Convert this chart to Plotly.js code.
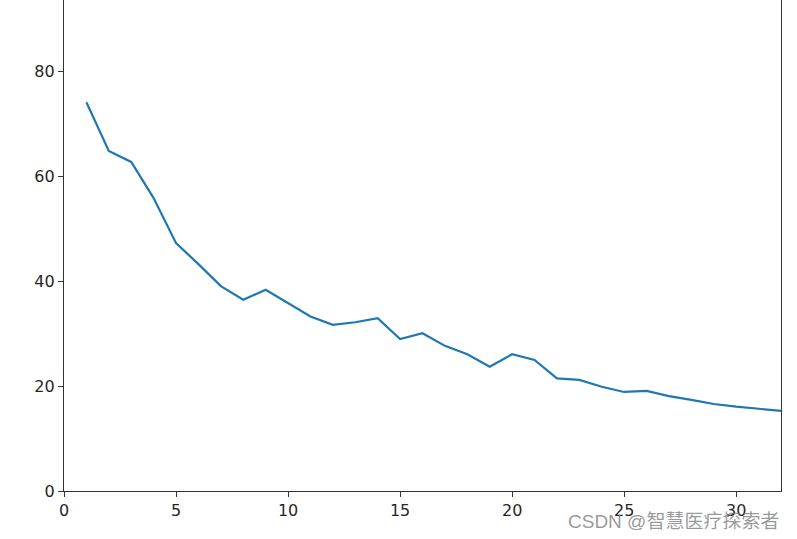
<!DOCTYPE html>
<html>
<head>
<meta charset="utf-8">
<script src="https://cdn.plot.ly/plotly-3.0.1.min.js"></script>
<style>html,body{margin:0;padding:0;background:#fff;}#chart{width:797px;height:539px;}</style>
</head>
<body>
<div id="chart"></div>
<script>
const epochs = [1,2,3,4,5,6,7,8,9,10,11,12,13,14,15,16,17,18,19,20,21,22,23,24,25,26,27,28,29,30,31,32];
const values = [74.2,64.9,62.8,55.9,47.3,43.3,39.1,36.5,38.4,35.8,33.3,31.7,32.2,33.0,29.0,30.1,27.7,26.1,23.7,26.1,25.0,21.5,21.2,19.9,18.9,19.1,18.1,17.4,16.6,16.1,15.7,15.3];
const xTicks = [0,5,10,15,20,25,30];
const yTicks = [0,20,40,60,80];
const watermark = "CSDN @智慧医疗探索者";

const trace = {
  x: epochs, y: values, type: 'scatter', mode: 'lines',
  line: {color: '#1f77b4', width: 2.2},
  hoverinfo: 'skip'
};
const font = {family: 'DejaVu Sans, sans-serif', size: 16, color: '#262626'};
const layout = {
  width: 797, height: 539,
  margin: {l: 64, r: 16, t: 0, b: 48},
  paper_bgcolor: '#fff', plot_bgcolor: '#fff',
  showlegend: false,
  font: font,
  xaxis: {
    range: [0, 32], tickvals: xTicks, ticktext: xTicks.map(String),
    showgrid: false, zeroline: false, showline: true, linecolor: '#333', linewidth: 1.2,
    ticks: 'outside', ticklen: 5, tickcolor: '#333', tickfont: font
  },
  yaxis: {
    range: [0, 93.7], tickvals: yTicks, ticktext: yTicks.map(String),
    showgrid: false, zeroline: false, showline: true, mirror: true, linecolor: '#333', linewidth: 1.2,
    ticks: 'outside', ticklen: 5, tickcolor: '#333', tickfont: font
  },
  annotations: [{
    text: watermark, xref: 'paper', yref: 'paper', x: 1, y: 0,
    xanchor: 'right', yanchor: 'top', yshift: -18, showarrow: false,
    font: {family: 'Liberation Sans, Noto Sans CJK SC, sans-serif', size: 19, color: 'rgba(120,120,120,0.75)'}
  }]
};
Plotly.newPlot('chart', [trace], layout, {staticPlot: true, displayModeBar: false});
</script>
</body>
</html>
